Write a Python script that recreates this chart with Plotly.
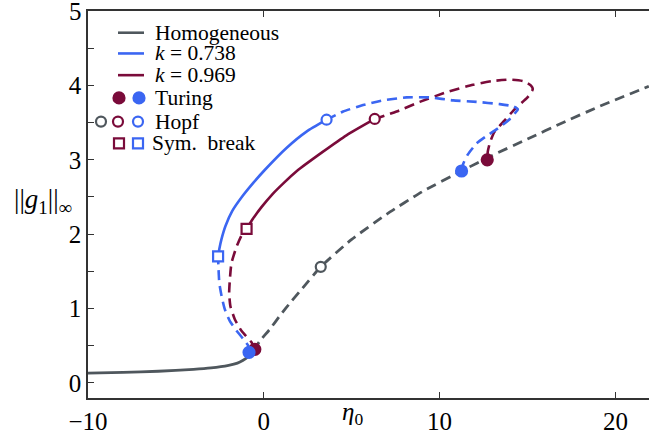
import plotly.graph_objects as go

# ---------------- data ----------------
hom_solid_x = [-10, -8, -6, -4, -3, -2, -1.5, -1.2, -0.9, -0.6]
hom_solid_y = [0.13, 0.14, 0.155, 0.18, 0.20, 0.235, 0.265, 0.30, 0.35, 0.43]
hom_dash_x = [-0.6, -0.23, 0.34, 0.91, 1.58, 2.05, 3.24, 5, 7, 9, 11.25, 13, 15, 17, 19, 21.9]
hom_dash_y = [0.43, 0.56, 0.72, 0.90, 1.10, 1.23, 1.56, 1.93, 2.27, 2.57, 2.85, 3.06, 3.28, 3.5, 3.71, 3.99]

b_dash1_x = [-0.84, -0.89, -1.17, -1.55, -1.93, -2.22, -2.40, -2.53, -2.58, -2.6]
b_dash1_y = [0.41, 0.50, 0.59, 0.70, 0.83, 0.99, 1.165, 1.34, 1.56, 1.70]
b_solid_x = [-2.6, -2.53, -2.41, -2.18, -1.80, -1.25, -0.6, 0.04, 1.29, 2.43, 3.57]
b_solid_y = [1.70, 1.80, 1.93, 2.11, 2.31, 2.50, 2.69, 2.86, 3.16, 3.38, 3.54]
b_dash2_x = [3.57, 4.51, 5.56, 6.79, 8.12, 9.44, 10.77, 12.1, 13.42, 14.2, 14.45, 14.4, 14.0, 13.3, 12.6, 12.1, 11.6, 11.35, 11.25]
b_dash2_y = [3.54, 3.65, 3.73, 3.80, 3.84, 3.84, 3.80, 3.78, 3.75, 3.72, 3.68, 3.66, 3.55, 3.42, 3.31, 3.22, 3.07, 2.95, 2.85]

m_dash1_x = [-0.51, -0.70, -1.27, -1.65, -1.9, -1.97, -1.93, -1.84, -1.55, -1.27, -0.98]
m_dash1_y = [0.45, 0.545, 0.70, 0.855, 1.03, 1.21, 1.39, 1.61, 1.83, 1.98, 2.07]
m_solid_x = [-0.98, -0.61, -0.11, 0.46, 1.14, 1.88, 3.37, 4.70, 6.31]
m_solid_y = [2.07, 2.21, 2.37, 2.53, 2.69, 2.85, 3.11, 3.33, 3.55]
m_dash2_x = [6.31, 7.55, 8.87, 10.39, 11.9, 13.0, 14.0, 14.75, 15.2, 15.3, 15.0, 14.3, 13.7, 13.1, 12.85, 12.74, 12.71]
m_dash2_y = [3.55, 3.65, 3.78, 3.91, 4.01, 4.06, 4.08, 4.06, 4.0, 3.95, 3.84, 3.69, 3.53, 3.37, 3.22, 3.11, 3.00]

turing_b_x = [-0.84, 11.25]
turing_b_y = [0.41, 2.85]
turing_m_x = [-0.51, 12.71]
turing_m_y = [0.45, 3.00]
hopf_g = ([3.24], [1.56])
hopf_b = ([3.57], [3.54])
hopf_m = ([6.31], [3.55])
sym_b = ([-2.6], [1.70])
sym_m = ([-0.98], [2.07])

x_ticks = [-10, 0, 10, 20]
x_ticktext = ["\u221210", "0", "10", "20"]
y_ticks = [0, 0.5, 1, 1.5, 2, 2.5, 3, 3.5, 4, 4.5, 5]
y_ticktext = ["0", "", "1", "", "2", "", "3", "", "4", "", "5"]

legend_labels = ["Homogeneous", "<i>k</i> = 0.738", "<i>k</i> = 0.969", "Turing", "Hopf", "Sym.  break"]

# ---------------- style ----------------
GRAY = "#4f575d"
BLUE = "#3b66f2"
MAROON = "#7a0b3a"
FONT = "Liberation Serif"
DASH = "10px,6px"
LW = 2.6

W, H = 649, 435
L, R, T, B = 88, 0, 11, 32

fig = go.Figure()


def line(x, y, color, dash=None, width=LW):
    fig.add_trace(go.Scatter(x=x, y=y, mode="lines", showlegend=False,
                             line=dict(color=color, width=width, dash=dash or "solid",
                                       shape="spline", smoothing=0.5),
                             hoverinfo="skip"))


def pts(x, y, color, symbol, size=11, fill=True):
    fig.add_trace(go.Scatter(x=x, y=y, mode="markers", showlegend=False,
                             marker=dict(color=color if fill else "white", symbol=symbol,
                                         size=size, line=dict(color=color, width=2.2)),
                             hoverinfo="skip"))


line(hom_solid_x, hom_solid_y, GRAY, width=2.8)
line(hom_dash_x, hom_dash_y, GRAY, DASH, width=2.8)
line(m_dash1_x, m_dash1_y, MAROON, DASH)
line(m_solid_x, m_solid_y, MAROON)
line(m_dash2_x, m_dash2_y, MAROON, DASH)
line(b_dash1_x, b_dash1_y, BLUE, DASH)
line(b_solid_x, b_solid_y, BLUE)
line(b_dash2_x, b_dash2_y, BLUE, DASH)

pts(*hopf_g, GRAY, "circle", 10, False)
pts(turing_m_x, turing_m_y, MAROON, "circle", 11)
pts(turing_b_x, turing_b_y, BLUE, "circle", 11)
pts(*hopf_m, MAROON, "circle", 10, False)
pts(*hopf_b, BLUE, "circle", 10, False)
pts(*sym_m, MAROON, "square", 10, False)
pts(*sym_b, BLUE, "square", 10, False)

# ---------------- manual legend (pixel overlay axes) ----------------
leg_rows = [33, 54, 76, 99, 123, 145]
for yy, col in zip(leg_rows[:3], [GRAY, BLUE, MAROON]):
    fig.add_trace(go.Scatter(x=[118, 144], y=[yy, yy], xaxis="x2", yaxis="y2", mode="lines",
                             line=dict(color=col, width=2.6), showlegend=False, hoverinfo="skip"))


def lpts(xs, yy, cols, symbol, fill, size):
    for xx, c in zip(xs, cols):
        fig.add_trace(go.Scatter(x=[xx], y=[yy], xaxis="x2", yaxis="y2", mode="markers",
                                 marker=dict(color=c if fill else "white", symbol=symbol, size=size,
                                             line=dict(color=c, width=2.2)),
                                 showlegend=False, hoverinfo="skip"))


lpts([119, 139], leg_rows[3], [MAROON, BLUE], "circle", True, 11)
lpts([101, 118, 138], leg_rows[4], [GRAY, MAROON, BLUE], "circle", False, 10)
lpts([119, 138], leg_rows[5], [MAROON, BLUE], "square", False, 10)

annotations = []
for i, (txt, yy) in enumerate(zip(legend_labels, leg_rows)):
    annotations.append(dict(x=153 if i < 5 else 150, y=yy, xref="x2", yref="y2", text=txt,
                            showarrow=False, xanchor="left", yanchor="middle",
                            font=dict(family=FONT, size=21.5, color="black")))

# top "5" tick label (kept as text so it is not hidden at the figure edge)
annotations.append(dict(x=0, y=5, xref="paper", yref="y", text="5", showarrow=False,
                        xanchor="right", yanchor="middle", xshift=-4,
                        font=dict(family=FONT, size=25, color="black")))

# axis titles
annotations.append(dict(x=(352 - L) / (W - L - R), y=-(419 - (H - B)) / (H - T - B), xref="paper", yref="paper",
                        text="<i>η</i><sub>0</sub>", showarrow=False, xanchor="center", yanchor="middle",
                        font=dict(family=FONT, size=25, color="black")))
annotations.append(dict(x=(43 - L) / (W - L - R), y=(H - B - 203) / (H - T - B), xref="paper", yref="paper",
                        text="||<i>g</i><sub>1</sub>||<sub>∞</sub>", showarrow=False, xanchor="center",
                        yanchor="middle", font=dict(family=FONT, size=27, color="black")))

axis_common = dict(showgrid=False, zeroline=False, showline=True, linecolor="#333333", linewidth=1.6,
                   ticks="inside", ticklen=6, tickwidth=1.3, tickcolor="#333333",
                   tickfont=dict(family=FONT, size=25, color="black"))

fig.update_layout(
    width=W, height=H, margin=dict(l=L, r=R, t=T, b=B, pad=0),
    paper_bgcolor="white", plot_bgcolor="white",
    xaxis=dict(range=[-10, -10 + (W - L - R) / 17.58], tickvals=x_ticks, ticktext=x_ticktext,
               mirror="ticks", **axis_common),
    yaxis=dict(range=[-0.205, 5.003], tickvals=y_ticks, ticktext=y_ticktext, mirror=False, **axis_common),
    xaxis2=dict(overlaying="x", range=[L, W - R], visible=False, fixedrange=True),
    yaxis2=dict(overlaying="y", range=[H - B, T], visible=False, fixedrange=True),
    annotations=annotations,
    showlegend=False,
)

fig.write_html("out.html", config={"displayModeBar": False},
               post_script="document.body.style.margin='0';document.body.style.overflow='hidden';")
